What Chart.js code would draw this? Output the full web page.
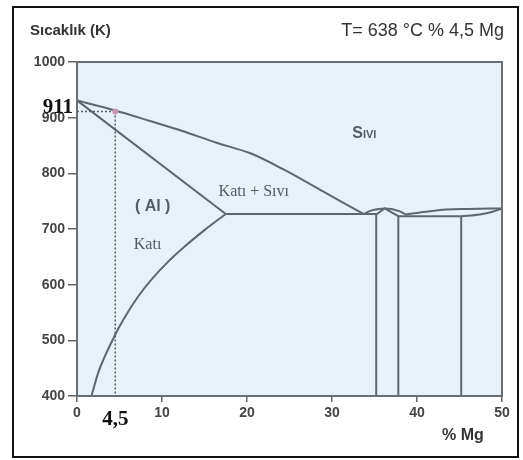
<!DOCTYPE html>
<html>
<head>
<meta charset="utf-8">
<script src="https://cdn.jsdelivr.net/npm/chart.js@4"></script>
<style>
body{margin:0;background:#fff;}
canvas{display:block;}
</style>
</head>
<body>
<canvas id="phaseChart" width="523" height="460"></canvas>
<script>
// axis ticks
const mgTicks=[0,10,20,30,40,50];
const tempTicks=[400,500,600,700,800,900,1000];

// phase boundaries (% Mg , K)
const liquidusMg=[0,4.5,8.6,12.4,16.4,20.4,24.3,29,33.7];
const liquidusT=[931,913,894,876,855,836,807,767,727];
const solidusMg=[0,17.5];
const solidusT=[931,727];
const solvusMg=[1.7,2.5,3.3,4.1,5.0,6.0,7.3,8.8,10.7,12.7,15.0,17.5];
const solvusT=[400,442,472,498,525,551,581,610,641,669,698,727];
const eutecticMg=[17.5,35.2];
const eutecticT=[727,727];
const domeMg=[33.7,34.6,35.5,36.2,37.0,37.9,38.7];
const domeT=[727,733,736,737,736,732,726];
const betaMg=[35.2,35.2,36.2,37.8,37.8];
const betaT=[400,726,737,723,400];
const liquidus2Mg=[38.7,41,43.5,46,50];
const liquidus2T=[726,731,735,736,737];
const eutectic2Mg=[37.8,45.2];
const eutectic2T=[723,723];
const gammaSolidusMg=[45.2,47.4,48.9,50];
const gammaSolidusT=[723,726,731,737];
const gammaMg=[45.2,45.2];
const gammaT=[400,723];

// marked point
const markMg=4.5;
const markT=911;

function pts(xs,ys){
return xs.map((x,i)=>({x:x,y:ys[i]}));
}

const lineColor="#5d676f";

function boundary(xs,ys,smooth){
return {
data:pts(xs,ys),
showLine:true,
borderColor:lineColor,
borderWidth:2,
pointRadius:0,
cubicInterpolationMode:smooth?"monotone":"default",
tension:smooth?0.4:0,
fill:false
};
}

const framePlugin={
id:"frame",
beforeDraw(chart){
const c=chart.ctx;
c.save();
c.fillStyle="#ffffff";
c.fillRect(0,0,chart.width,chart.height);
c.strokeStyle="#111";
c.lineWidth=2;
c.strokeRect(13,7,505,450);
const a=chart.chartArea;
c.fillStyle="#e6f1fa";
c.fillRect(a.left,a.top,a.right-a.left,a.bottom-a.top);
c.restore();
},
afterDatasetsDraw(chart){
const c=chart.ctx;
const a=chart.chartArea;
const xs=chart.scales.x;
const ys=chart.scales.y;
c.save();
c.strokeStyle="#6a6f73";
c.lineWidth=2;
c.strokeRect(a.left,a.top,a.right-a.left,a.bottom-a.top);

// dotted guide lines
const px=xs.getPixelForValue(markMg);
const py=ys.getPixelForValue(markT);
c.strokeStyle="#55606a";
c.lineWidth=1.5;
c.setLineDash([2,2]);
c.beginPath();
c.moveTo(a.left,py);
c.lineTo(px,py);
c.moveTo(px,py);
c.lineTo(px,a.bottom);
c.stroke();
c.setLineDash([]);
c.fillStyle="#c795b2";
c.beginPath();
c.arc(px,py,3,0,Math.PI*2);
c.fill();

// texts
c.textAlign="center";
c.textBaseline="middle";
c.fillStyle="#555c63";
c.font="small-caps bold 16px Arial, 'Liberation Sans'";
c.fillText("Sıvı",xs.getPixelForValue(33.8),ys.getPixelForValue(871));
c.font="16px 'Liberation Serif', 'DejaVu Serif'";
c.fillText("Katı + Sıvı",xs.getPixelForValue(20.8),ys.getPixelForValue(766));
c.fillText("Katı",xs.getPixelForValue(8.3),ys.getPixelForValue(672));
c.font="bold 16px Arial, 'Liberation Sans'";
c.fillText("( Al )",xs.getPixelForValue(8.9),ys.getPixelForValue(740));

c.fillStyle="#111";
c.font="bold 21px 'Liberation Serif', 'DejaVu Serif'";
c.textAlign="right";
c.fillText("911",a.left-4,py-4);
c.textAlign="center";
c.fillText("4,5",px,a.bottom+24);

c.fillStyle="#333";
c.font="bold 16px Arial, 'Liberation Sans'";
c.fillText("% Mg",463,436);
c.textAlign="left";
c.font="bold 15px Arial, 'Liberation Sans'";
c.fillText("Sıcaklık (K)",30,31);
c.textAlign="right";
c.font="18px Arial, 'Liberation Sans'";
c.fillText("T= 638 °C % 4,5 Mg",504,31);
c.restore();
}
};

new Chart(document.getElementById("phaseChart"),{
type:"scatter",
data:{
datasets:[
boundary(liquidusMg,liquidusT,true),
boundary(solidusMg,solidusT,false),
boundary(solvusMg,solvusT,true),
boundary(eutecticMg,eutecticT,false),
boundary(domeMg,domeT,true),
boundary(betaMg,betaT,false),
boundary(liquidus2Mg,liquidus2T,true),
boundary(eutectic2Mg,eutectic2T,false),
boundary(gammaSolidusMg,gammaSolidusT,true),
boundary(gammaMg,gammaT,false)
]
},
options:{
responsive:false,
animation:false,
layout:{
padding:{left:0,right:21,top:62,bottom:0}
},
plugins:{
legend:{display:false},
tooltip:{enabled:false}
},
scales:{
x:{
type:"linear",
min:0,
max:50,
afterBuildTicks(scale){
scale.ticks=mgTicks.map(v=>({value:v}));
},
afterFit(scale){
scale.height=64;
},
grid:{drawOnChartArea:false,drawTicks:true,tickLength:6,color:"#666",lineWidth:1.5},
border:{display:false},
ticks:{color:"#444",padding:3,font:{family:"Arial",size:14,weight:"bold"},callback:v=>String(v)}
},
y:{
type:"linear",
min:400,
max:1000,
afterBuildTicks(scale){
scale.ticks=tempTicks.map(v=>({value:v}));
},
afterFit(scale){
scale.width=77;
},
grid:{drawOnChartArea:false,drawTicks:true,tickLength:9,color:"#666",lineWidth:1.5},
border:{display:false},
ticks:{color:"#444",padding:3,font:{family:"Arial",size:14,weight:"bold"},callback:v=>String(v)}
}
}
},
plugins:[framePlugin]
});
</script>
</body>
</html>
